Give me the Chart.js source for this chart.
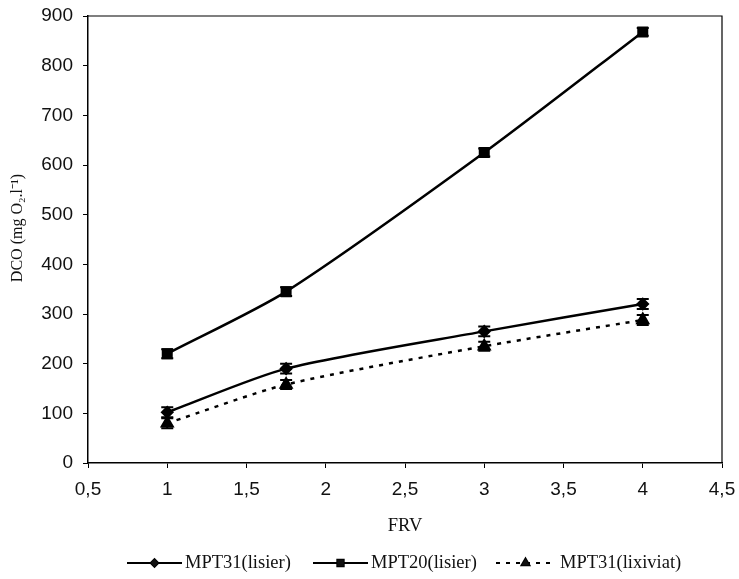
<!DOCTYPE html>
<html><head><meta charset="utf-8">
<script src="https://cdn.jsdelivr.net/npm/chart.js@4"></script>
<style>html,body{margin:0;padding:0;background:#fff}#wrap{width:739px;height:579px}</style>
</head><body><div id="wrap"><canvas id="c" width="739" height="579"></canvas></div>
<script>
const xValues = [1, 1.75, 3, 4];
const mpt31Lisier = [102, 190, 265, 320];
const mpt20Lisier = [220, 345, 625, 868];
const mpt31Lixiviat = [80, 158, 235, 288];
const err31Lisier = [10, 10, 10, 10];
const err20Lisier = [9, 9, 8, 8];
const err31Lixiviat = [10, 9, 9, 10];
const seriesNames = ['MPT31(lisier)', 'MPT20(lisier)', 'MPT31(lixiviat)'];
const yTitle = 'DCO (mg O\u2082.l\u207B\u00B9)';
const xTitle = 'FRV';

const toPts = arr => arr.map((v,i)=>({x:xValues[i], y:v}));

const errorBars = {
  id:'errorBars',
  afterDatasetsDraw(chart){
    const ctx = chart.ctx, ys = chart.scales.y, xs = chart.scales.x;
    chart.data.datasets.forEach(ds=>{
      ctx.save();
      ctx.strokeStyle='#000'; ctx.lineWidth=2; ctx.setLineDash([]);
      ds.data.forEach((p,i)=>{
        const e = ds.errors[i];
        const px = xs.getPixelForValue(p.x);
        const y1 = ys.getPixelForValue(p.y+e), y2 = ys.getPixelForValue(p.y-e);
        ctx.beginPath();
        ctx.moveTo(px,y1); ctx.lineTo(px,y2);
        ctx.moveTo(px-6,y1); ctx.lineTo(px+6,y1);
        ctx.moveTo(px-6,y2); ctx.lineTo(px+6,y2);
        ctx.stroke();
      });
      ctx.restore();
    });
  }
};

const deco = {
  id:'deco',
  afterDraw(chart){
    const ctx = chart.ctx, a = chart.chartArea;
    ctx.save();
    ctx.strokeStyle='#000'; ctx.lineWidth=1.2;
    ctx.beginPath();
    ctx.moveTo(a.left,a.top); ctx.lineTo(a.right,a.top); ctx.lineTo(a.right,a.bottom);
    ctx.stroke();
    ctx.fillStyle='#111';
    ctx.font='18.5px "Liberation Serif", "Times New Roman", serif';
    ctx.textAlign='center'; ctx.textBaseline='middle';
    ctx.fillText(xTitle,(a.left+a.right)/2,526);
    ctx.save();
    ctx.font='16px "Liberation Serif", "Times New Roman", serif';
    ctx.translate(18,228); ctx.rotate(-Math.PI/2);
    ctx.fillText(yTitle,0,0);
    ctx.restore();
    const ly = 563;
    const items = [
      {x0:127, x1:182, tx:185, ds:0},
      {x0:313, x1:368, tx:371, ds:1},
      {x0:496, x1:555, tx:560, ds:2}
    ];
    ctx.textAlign='left';
    items.forEach(it=>{
      const ds = chart.data.datasets[it.ds];
      ctx.save();
      ctx.lineWidth=2; ctx.strokeStyle='#000';
      ctx.setLineDash(ds.borderDash||[]);
      ctx.beginPath(); ctx.moveTo(it.x0,ly); ctx.lineTo(it.x1,ly); ctx.stroke();
      ctx.setLineDash([]);
      Chart.helpers.drawPoint(ctx,{pointStyle:ds.pointStyle, radius:ds.pointRadius*0.75, rotation:0, borderWidth:1},(it.x0+it.x1)/2,ly);
      ctx.fill();
      ctx.restore();
      ctx.fillStyle='#111';
      ctx.fillText(seriesNames[it.ds], it.tx, ly);
    });
    ctx.restore();
  }
};

const common = {borderColor:'#000', backgroundColor:'#000', pointBackgroundColor:'#000', pointBorderColor:'#000', borderWidth:2.5, tension:0.25, fill:false};

new Chart(document.getElementById('c'),{
  type:'line',
  data:{datasets:[
    Object.assign({label:seriesNames[0], data:toPts(mpt31Lisier), errors:err31Lisier, pointStyle:'rectRot', pointRadius:5},common),
    Object.assign({label:seriesNames[1], data:toPts(mpt20Lisier), errors:err20Lisier, pointStyle:'rect', pointRadius:6},common),
    Object.assign({label:seriesNames[2], data:toPts(mpt31Lixiviat), errors:err31Lixiviat, pointStyle:'triangle', pointRadius:6, borderDash:[4,6]},common)
  ]},
  options:{
    responsive:false, animation:false, devicePixelRatio:1,
    layout:{padding:{top:16,right:17,left:0,bottom:0}},
    plugins:{legend:{display:false}, tooltip:{enabled:false}},
    scales:{
      x:{type:'linear', min:0.5, max:4.5,
        ticks:{stepSize:0.5, color:'#111', padding:10, font:{family:'"Liberation Sans", Arial, sans-serif', size:19},
          callback:v=>String(v).replace('.',',')},
        grid:{display:true, drawOnChartArea:false, drawTicks:true, tickLength:5, color:'#000'},
        border:{display:true, color:'#000', width:1.5},
        afterFit(s){s.height = 579-463; s.paddingLeft=0; s.paddingRight=0;}
      },
      y:{min:0, max:900,
        ticks:{stepSize:100, color:'#111', padding:10, font:{family:'"Liberation Sans", Arial, sans-serif', size:19}},
        grid:{display:true, drawOnChartArea:false, drawTicks:true, tickLength:5, color:'#000'},
        border:{display:true, color:'#000', width:1.5},
        afterFit(s){s.width = 88; s.paddingTop=0; s.paddingBottom=0;}
      }
    }
  },
  plugins:[errorBars, deco]
});
</script></body></html>
